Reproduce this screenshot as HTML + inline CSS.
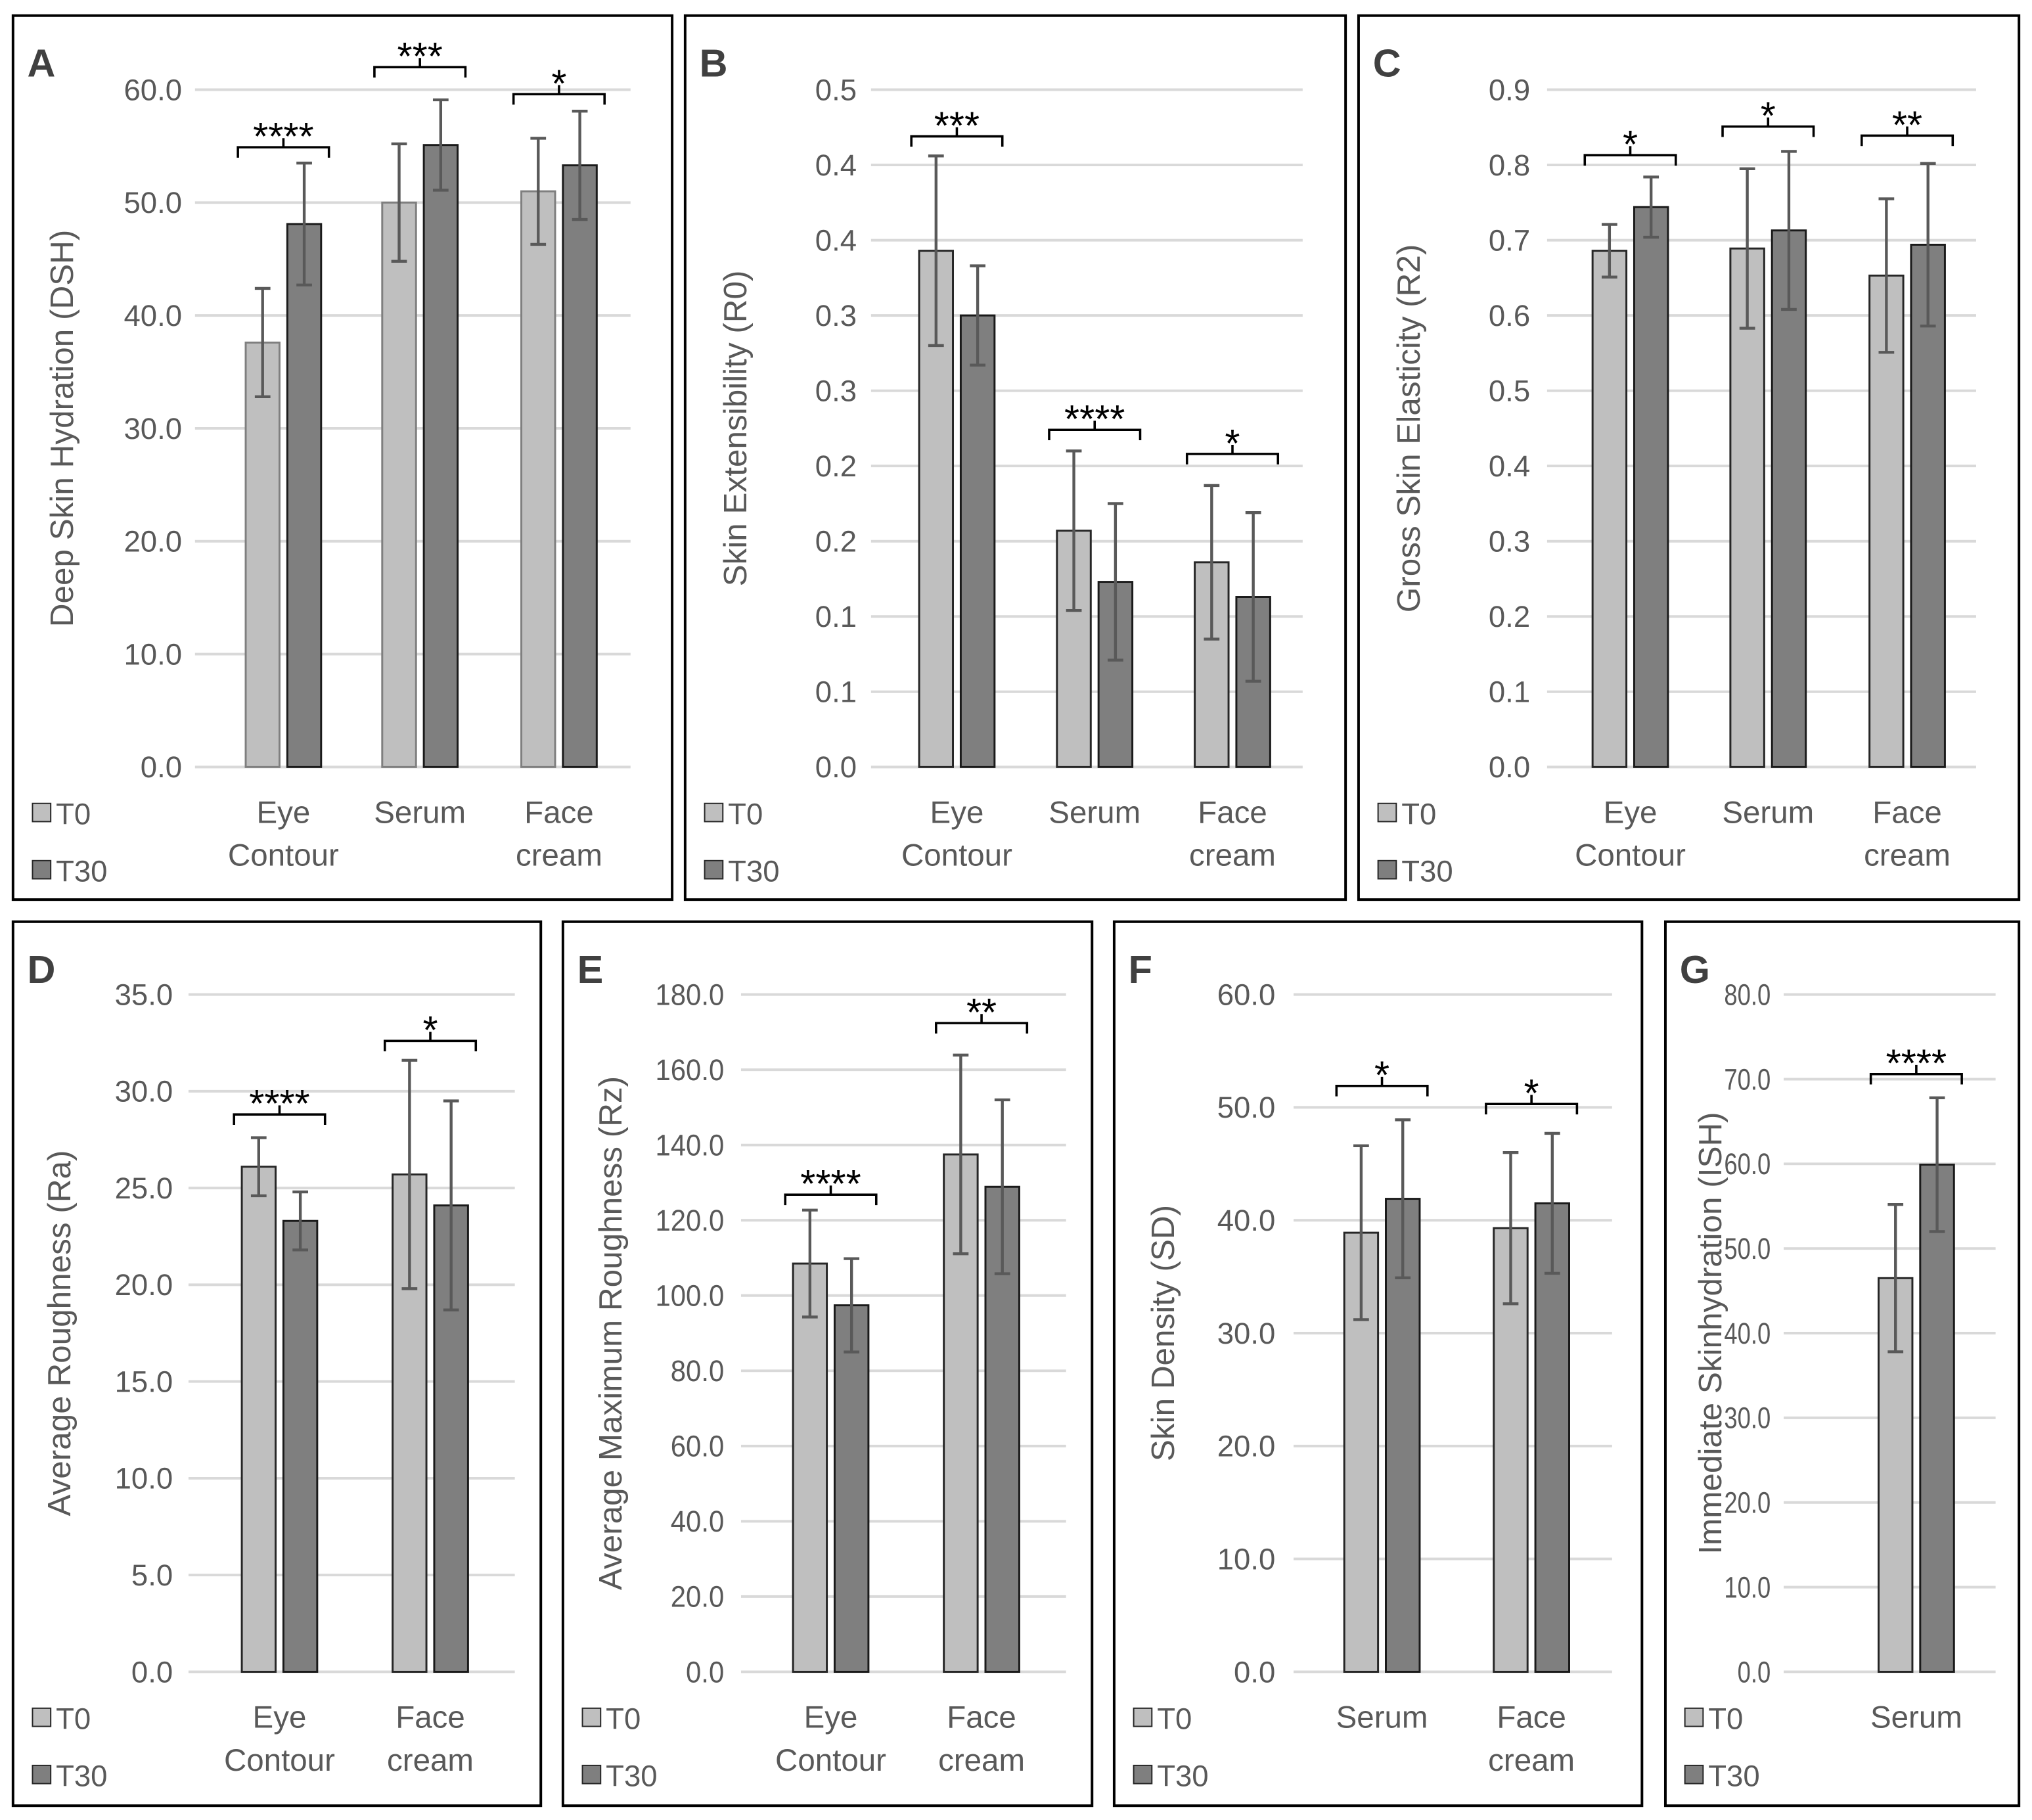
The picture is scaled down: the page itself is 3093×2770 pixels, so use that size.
<!DOCTYPE html>
<html><head><meta charset="utf-8"><style>
html,body{margin:0;padding:0;background:#fff;}
svg{display:block;}
text{font-family:"Liberation Sans","DejaVu Sans",sans-serif;}
</style></head><body>
<svg id="fig" xmlns="http://www.w3.org/2000/svg" width="3093" height="2770" viewBox="0 0 1563 1400" preserveAspectRatio="none"></svg>
<script>
// Panel A
const aCategories=[["Eye","Contour"],["Serum"],["Face","cream"]];
const aT0=[37.6,50.0,51.0];
const aT30=[48.1,55.1,53.3];
const aErrT0=[4.8,5.2,4.7];
const aErrT30=[5.4,4.0,4.8];
const aSig=["****","***","*"];
const aSigLevel=[54.9,62.0,59.6];
const aTicks=["0.0","10.0","20.0","30.0","40.0","50.0","60.0"];
// Panel B
const bCategories=[["Eye","Contour"],["Serum"],["Face","cream"]];
const bT0=[0.343,0.157,0.136];
const bT30=[0.300,0.123,0.113];
const bErrT0=[0.063,0.053,0.051];
const bErrT30=[0.033,0.052,0.056];
const bSig=["***","****","*"];
const bSigLevel=[0.419,0.224,0.208];
const bTicks=["0.0","0.1","0.1","0.2","0.2","0.3","0.3","0.4","0.4","0.5"];
// Panel C
const cCategories=[["Eye","Contour"],["Serum"],["Face","cream"]];
const cT0=[0.686,0.689,0.653];
const cT30=[0.744,0.713,0.694];
const cErrT0=[0.035,0.106,0.102];
const cErrT30=[0.040,0.105,0.108];
const cSig=["*","*","**"];
const cSigLevel=[0.813,0.851,0.839];
const cTicks=["0.0","0.1","0.2","0.3","0.4","0.5","0.6","0.7","0.8","0.9"];
// Panel D
const dCategories=[["Eye","Contour"],["Face","cream"]];
const dT0=[26.1,25.7];
const dT30=[23.3,24.1];
const dErrT0=[1.5,5.9];
const dErrT30=[1.5,5.4];
const dSig=["****","*"];
const dSigLevel=[28.8,32.6];
const dTicks=["0.0","5.0","10.0","15.0","20.0","25.0","30.0","35.0"];
// Panel E
const eCategories=[["Eye","Contour"],["Face","cream"]];
const eT0=[108.5,137.5];
const eT30=[97.4,128.9];
const eErrT0=[14.2,26.4];
const eErrT30=[12.4,23.1];
const eSig=["****","**"];
const eSigLevel=[126.8,172.4];
const eTicks=["0.0","20.0","40.0","60.0","80.0","100.0","120.0","140.0","160.0","180.0"];
// Panel F
const fCategories=[["Serum"],["Face","cream"]];
const fT0=[38.9,39.3];
const fT30=[41.9,41.5];
const fErrT0=[7.7,6.7];
const fErrT30=[7.0,6.2];
const fSig=["*","*"];
const fSigLevel=[51.9,50.3];
const fTicks=["0.0","10.0","20.0","30.0","40.0","50.0","60.0"];
// Panel G
const gCategories=[["Serum"]];
const gT0=[46.5];
const gT30=[59.9];
const gErrT0=[8.7];
const gErrT30=[7.9];
const gSig=["****"];
const gSigLevel=[70.6];
const gTicks=["0.0","10.0","20.0","30.0","40.0","50.0","60.0","70.0","80.0"];

const NS="http://www.w3.org/2000/svg";
const svg=document.getElementById('fig');
function mk(tag,attrs,parent,txt){const e=document.createElementNS(NS,tag);for(const k in attrs)e.setAttribute(k,attrs[k]);if(txt!==undefined)e.textContent=txt;parent.appendChild(e);return e;}

function panel(o){
  const g=mk('g',{},svg);
  
  
  const box=mk('rect',{x:o.bx,y:o.by,width:o.bw,height:o.bh,fill:'#fff',stroke:'#000','stroke-width':2},g);
  
  
  const L=mk('text',{x:o.bx+11,y:o.by+47,'font-size':30,'font-weight':'bold',fill:'#404040'},g,o.letter);
  
  
  const top=o.top,bot=o.bot;
  const nT=o.ticks.length-1;
  const y=v=>bot-(v/o.max)*(bot-top);
  const sx=o.tickScale||1;
  for(let i=0;i<=nT;i++){
    const yy=bot-(i/nT)*(bot-top);
    const gl=mk('line',{x1:o.gx1,x2:o.gx2,y1:yy,y2:yy,stroke:'#d9d9d9','stroke-width':2},g);
    
    
    const tl=mk('text',{x:o.tx,y:yy+8,'font-size':23,fill:'#595959','text-anchor':'end',transform:`translate(${o.tx},0) scale(${sx},1) translate(${-o.tx},0)`},g,o.ticks[i]);
    
    
  }
  const yt=mk('text',{x:0,y:0,'font-size':25,fill:'#595959','text-anchor':'middle',transform:`translate(${o.ytx},${(top+bot)/2}) rotate(-90)`},g,o.title);
  
  
  const bw=26,gap=6;
  o.cats.forEach((c,i)=>{
    const cx=o.cx[i];
    const x0=cx-gap/2-bw, x1=cx+gap/2;
    const b0=mk('rect',{x:x0,y:y(o.t0[i]),width:bw,height:bot-y(o.t0[i]),fill:'#bfbfbf',stroke:o.letter==='A'?'#7f7f7f':'#262626','stroke-width':1.5},g);
    
    
    const b1=mk('rect',{x:x1,y:y(o.t30[i]),width:bw,height:bot-y(o.t30[i]),fill:'#7f7f7f',stroke:'#1a1a1a','stroke-width':1.5},g);
    
    
    [[x0,o.t0[i],o.e0[i]],[x1,o.t30[i],o.e30[i]]].forEach(([bx,v,e])=>{
      const ex=bx+bw/2;
      const eb=mk('path',{d:`M${ex},${y(v+e)}V${y(v-e)}M${ex-6},${y(v+e)}H${ex+6}M${ex-6},${y(v-e)}H${ex+6}`,stroke:'#595959','stroke-width':2.2,fill:'none'},g);
      
      
    });
    const sy=y(o.sl[i]);
    const l=x0-6,r=x1+bw+6;
    const br=mk('path',{d:`M${l},${sy+8}V${sy}H${r}V${sy+8}M${cx},${sy}V${sy-7}`,stroke:'#000','stroke-width':1.8,fill:'none'},g);
    
    
    const st=mk('text',{x:cx,y:sy+2,'font-size':30,fill:'#000','text-anchor':'middle'},g,o.sig[i]);
    
    
    c.forEach((ln,k)=>{
      const ct=mk('text',{x:cx,y:bot+43+k*33,'font-size':24,fill:'#595959','text-anchor':'middle'},g,ln);
      
      
    });
  });
  [['T0','#bfbfbf',bot+44],['T30','#7f7f7f',bot+88]].forEach(([n,f,ly])=>{
    const sw=mk('rect',{x:o.bx+15,y:ly-16,width:14,height:14,fill:f,stroke:'#262626','stroke-width':1},g);
    
    
    const lt=mk('text',{x:o.bx+33,y:ly,'font-size':23,fill:'#595959'},g,n);
    
    
  });
}
const TOP1=69,BOT1=590,TOP2=765,BOT2=1286;
panel({letter:'A',bx:10,by:12,bw:507,bh:680,top:TOP1,bot:BOT1,max:60,gx1:150,gx2:485,tx:140,ytx:56,title:'Deep Skin Hydration (DSH)',ticks:aTicks,cats:aCategories,cx:[218,323,430],t0:aT0,t30:aT30,e0:aErrT0,e30:aErrT30,sig:aSig,sl:aSigLevel});
panel({letter:'B',bx:527,by:12,bw:508,bh:680,top:TOP1,bot:BOT1,max:0.45,gx1:670,gx2:1002,tx:659,ytx:574,title:'Skin Extensibility (R0)',ticks:bTicks,cats:bCategories,cx:[736,842,948],t0:bT0,t30:bT30,e0:bErrT0,e30:bErrT30,sig:bSig,sl:bSigLevel});
panel({letter:'C',bx:1045,by:12,bw:508,bh:680,top:TOP1,bot:BOT1,max:0.9,gx1:1190,gx2:1520,tx:1177,ytx:1092,title:'Gross Skin Elasticity (R2)',ticks:cTicks,cats:cCategories,cx:[1254,1360,1467],t0:cT0,t30:cT30,e0:cErrT0,e30:cErrT30,sig:cSig,sl:cSigLevel});
panel({letter:'D',bx:10,by:709,bw:406,bh:680,top:TOP2,bot:BOT2,max:35,gx1:145,gx2:396,tx:133,ytx:54,title:'Average Roughness (Ra)',ticks:dTicks,cats:dCategories,cx:[215,331],t0:dT0,t30:dT30,e0:dErrT0,e30:dErrT30,sig:dSig,sl:dSigLevel});
panel({letter:'E',bx:433,by:709,bw:407,bh:680,top:TOP2,bot:BOT2,max:180,gx1:570,gx2:820,tx:557,ytx:478,title:'Average Maximum Roughness (Rz)',ticks:eTicks,cats:eCategories,cx:[639,755],t0:eT0,t30:eT30,e0:eErrT0,e30:eErrT30,sig:eSig,sl:eSigLevel,tickScale:0.92});
panel({letter:'F',bx:857,by:709,bw:406,bh:680,top:TOP2,bot:BOT2,max:60,gx1:995,gx2:1240,tx:981,ytx:903,title:'Skin Density (SD)',ticks:fTicks,cats:fCategories,cx:[1063,1178],t0:fT0,t30:fT30,e0:fErrT0,e30:fErrT30,sig:fSig,sl:fSigLevel});
panel({letter:'G',bx:1281,by:709,bw:272,bh:680,top:TOP2,bot:BOT2,max:80,gx1:1372,gx2:1535,tx:1362,ytx:1324,title:'Immediate Skinhydration (ISH)',ticks:gTicks,cats:gCategories,cx:[1474],t0:gT0,t30:gT30,e0:gErrT0,e30:gErrT30,sig:gSig,sl:gSigLevel,tickScale:0.8});
</script>
</body></html>
